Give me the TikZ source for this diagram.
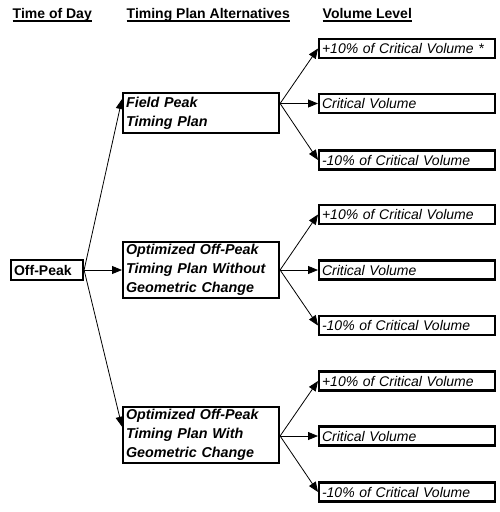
\documentclass[tikz,border=0pt]{standalone}
\usepackage{fontspec}
\setmainfont{Liberation Sans}
\usetikzlibrary{arrows.meta,shadows,calc}
\begin{document}
\begin{tikzpicture}[x=1pt,y=-1pt,
  boxstyle/.style={draw, line width=2.1pt, fill=white,
    general shadow={fill=black, shadow xshift=1pt, shadow yshift=-1pt},
    inner xsep=3pt, inner ysep=0pt, align=left, anchor=west},
  offbox/.style={boxstyle, text width=66pt, minimum height=20pt,
    font=\fontsize{14}{19}\selectfont\bfseries},
  midbox/.style={boxstyle, text width=150pt,
    font=\fontsize{14.3}{19}\selectfont\bfseries\itshape},
  volbox/.style={boxstyle, text width=170pt, minimum height=19pt,
    font=\fontsize{14}{19}\selectfont\itshape},
  hdr/.style={inner sep=0pt, anchor=base west,
    font=\fontsize{14}{17}\selectfont\bfseries},
  arr/.style={-{Triangle[length=10pt,width=8pt]}, line width=0.8pt},
  uline/.style={line width=1.2pt}
]
\useasboundingbox (0,0) rectangle (500,512);
\fill[white] (0,0) rectangle (500,512);

% headers
\node[hdr] (h1) at (12.5,18.5) {Time of Day};
\node[hdr] (h2) at (126.5,18.5) {Timing Plan Alternatives};
\node[hdr] (h3) at (322.5,18.5) {Volume Level};
\foreach \h in {h1,h2,h3}
  \draw[uline] ($(\h.base west)+(0,2.5)$) -- ($(\h.base east)+(0,2.5)$);

% time of day
\node[offbox] (op) at (10,270) {Off-Peak};

% timing plans
\node[midbox, minimum height=40pt] (b1) at (122,113) {Field Peak\\Timing Plan};
\node[midbox, minimum height=56pt] (b2) at (122,270) {Optimized Off-Peak\\Timing Plan Without\\Geometric Change};
\node[midbox, minimum height=56pt] (b3) at (122,435) {Optimized Off-Peak\\Timing Plan With\\Geometric Change};

% volume levels
\node[volbox] (v11) at (318,48.5) {+10\% of Critical Volume *};
\node[volbox] (v12) at (318,103.5) {Critical Volume};
\node[volbox] (v13) at (318,160) {-10\% of Critical Volume};
\node[volbox] (v21) at (318,214.5) {+10\% of Critical Volume};
\node[volbox] (v22) at (318,270) {Critical Volume};
\node[volbox] (v23) at (318,325.5) {-10\% of Critical Volume};
\node[volbox] (v31) at (318,381) {+10\% of Critical Volume};
\node[volbox] (v32) at (318,436) {Critical Volume};
\node[volbox] (v33) at (318,492) {-10\% of Critical Volume};

% connectors
\draw[arr] (op.east) -- (b1.170);
\draw[arr] (op.east) -- (b2.west);
\draw[arr] (op.east) -- (b3.174);

\coordinate (o1) at (b1.east |- v12.west);
\coordinate (o2) at (b2.east |- v22.west);
\coordinate (o3) at (b3.east |- v32.west);
\foreach \g/\o in {1/o1,2/o2,3/o3}{
  \draw[arr] (\o) -- (v\g1.west);
  \draw[arr] (\o) -- (v\g2.west);
  \draw[arr] (\o) -- (v\g3.west);
}
\end{tikzpicture}
\end{document}
